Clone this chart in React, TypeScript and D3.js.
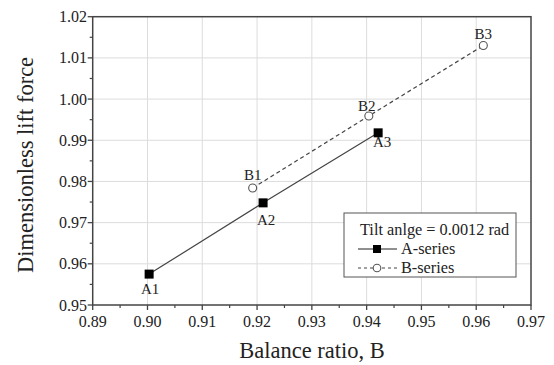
import React from "react";
import * as d3 from "d3";

const seriesAX = [0.9003, 0.9211, 0.9421];
const seriesAY = [0.9575, 0.9748, 0.9918];
const seriesALabels = ["A1", "A2", "A3"];
const seriesBX = [0.9192, 0.9404, 0.9613];
const seriesBY = [0.9784, 0.9959, 1.013];
const seriesBLabels = ["B1", "B2", "B3"];
const xTicks = [0.89, 0.9, 0.91, 0.92, 0.93, 0.94, 0.95, 0.96, 0.97];
const yTicks = [0.95, 0.96, 0.97, 0.98, 0.99, 1.0, 1.01, 1.02];
const xTitle = "Balance ratio, B";
const yTitle = "Dimensionless lift force";
const legendTitle = "Tilt anlge = 0.0012 rad";
const legendNames = ["A-series", "B-series"];

const W = 554, H = 365;
const L = 92.7, R = 531, T = 16.7, B = 305;
const FONT = "Liberation Serif, Times New Roman, DejaVu Serif, serif";
const AXC = "#444";
const TS: React.CSSProperties = { fontFamily: FONT };

export default function App() {
  const x = d3.scaleLinear().domain([0.89, 0.97]).range([L, R]);
  const y = d3.scaleLinear().domain([0.95, 1.02]).range([B, T]);
  const line = d3.line<[number, number]>().x(d => x(d[0])).y(d => y(d[1]));
  const aPts: [number, number][] = seriesAX.map((v, i) => [v, seriesAY[i]]);
  const bPts: [number, number][] = seriesBX.map((v, i) => [v, seriesBY[i]]);
  const xMinor = d3.range(0, xTicks.length - 1).map(i => (xTicks[i] + xTicks[i + 1]) / 2);
  const yMinor = d3.range(0, yTicks.length - 1).map(i => (yTicks[i] + yTicks[i + 1]) / 2);

  const aOff: [number, number][] = [[1, 20], [3, 22], [4, 14]];
  const bOff: [number, number][] = [[0, -8], [-2, -5], [0, -7]];

  return (
    <svg width={W} height={H} style={{ position: "absolute", left: 0, top: 0, background: "#fff", fontFamily: FONT }}>
      <rect x={0} y={0} width={W} height={H} fill="#fff" />
      {xTicks.slice(1, -1).map(t => (
        <line key={"gx" + t} x1={x(t)} x2={x(t)} y1={T} y2={B} stroke="#dcdcdc" strokeWidth={1} />
      ))}
      {yTicks.slice(1, -1).map(t => (
        <line key={"gy" + t} x1={L} x2={R} y1={y(t)} y2={y(t)} stroke="#dcdcdc" strokeWidth={1} />
      ))}
      <rect x={L} y={T} width={R - L} height={B - T} fill="none" stroke={AXC} strokeWidth={1.5} />
      {xTicks.map(t => (
        <line key={"tx" + t} x1={x(t)} x2={x(t)} y1={B} y2={B + 5} stroke={AXC} strokeWidth={1.3} />
      ))}
      {xMinor.map(t => (
        <line key={"mx" + t} x1={x(t)} x2={x(t)} y1={B} y2={B + 3} stroke={AXC} strokeWidth={1.2} />
      ))}
      {yTicks.map(t => (
        <line key={"ty" + t} x1={L - 5} x2={L} y1={y(t)} y2={y(t)} stroke={AXC} strokeWidth={1.3} />
      ))}
      {yMinor.map(t => (
        <line key={"my" + t} x1={L - 3} x2={L} y1={y(t)} y2={y(t)} stroke={AXC} strokeWidth={1.2} />
      ))}
      {xTicks.map(t => (
        <text key={"lx" + t} style={TS} x={x(t)} y={327} fontSize={16} textAnchor="middle" fill="#222">
          {d3.format(".2f")(t)}
        </text>
      ))}
      {yTicks.map(t => (
        <text key={"ly" + t} style={TS} x={87} y={y(t) + 5.5} fontSize={16} textAnchor="end" fill="#222">
          {d3.format(".2f")(t)}
        </text>
      ))}
      <text style={TS} x={312} y={358} fontSize={22.5} textAnchor="middle" fill="#222">{xTitle}</text>
      <text style={TS} transform={`translate(33,165) rotate(-90)`} fontSize={22.5} textAnchor="middle" fill="#222">{yTitle}</text>
      <path d={line(bPts) || ""} fill="none" stroke="#444" strokeWidth={1.2} strokeDasharray="4,3" />
      <path d={line(aPts) || ""} fill="none" stroke="#444" strokeWidth={1.2} />
      {aPts.map((p, i) => (
        <rect key={"am" + i} x={x(p[0]) - 4.5} y={y(p[1]) - 4.5} width={9} height={9} fill="#000" />
      ))}
      {bPts.map((p, i) => (
        <circle key={"bm" + i} cx={x(p[0])} cy={y(p[1])} r={4} fill="#fff" stroke="#555" strokeWidth={1.1} />
      ))}
      {aPts.map((p, i) => (
        <text key={"al" + i} style={TS} x={x(p[0]) + aOff[i][0]} y={y(p[1]) + aOff[i][1]} fontSize={15} textAnchor="middle" fill="#222">
          {seriesALabels[i]}
        </text>
      ))}
      {bPts.map((p, i) => (
        <text key={"bl" + i} style={TS} x={x(p[0]) + bOff[i][0]} y={y(p[1]) + bOff[i][1]} fontSize={15} textAnchor="middle" fill="#222">
          {seriesBLabels[i]}
        </text>
      ))}
      <g>
        <rect x={344} y={213} width={172} height={64} fill="#fff" stroke="#555" strokeWidth={1} />
        <text style={TS} x={360} y={235} fontSize={16.3} fill="#222">{legendTitle}</text>
        <line x1={358} x2={397} y1={249} y2={249} stroke="#222" strokeWidth={1.2} />
        <rect x={373} y={245} width={8} height={8} fill="#000" />
        <text style={TS} x={401} y={254} fontSize={16.3} fill="#222">{legendNames[0]}</text>
        <line x1={358} x2={397} y1={268} y2={268} stroke="#444" strokeWidth={1.2} strokeDasharray="3,3" />
        <circle cx={377} cy={268} r={3.8} fill="#fff" stroke="#555" strokeWidth={1.1} />
        <text style={TS} x={401} y={273} fontSize={16.3} fill="#222">{legendNames[1]}</text>
      </g>
    </svg>
  );
}
